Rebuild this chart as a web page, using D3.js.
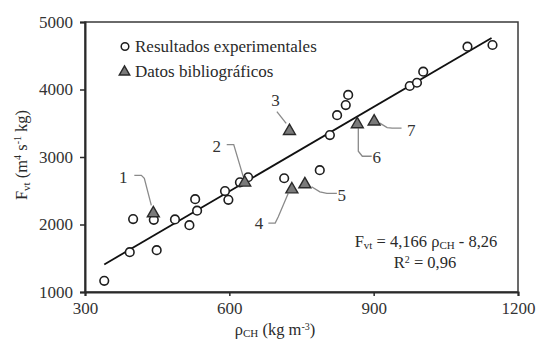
<!DOCTYPE html>
<html>
<head>
<meta charset="utf-8">
<script src="https://cdn.jsdelivr.net/npm/d3@7"></script>
<style>
  html, body { margin: 0; padding: 0; background: #fff; }
  svg text { font-family: "Liberation Serif", "Times New Roman", serif; }
</style>
</head>
<body>
<svg id="chart" width="537" height="339"></svg>
<script>
// ---- data ----
const expX = [340, 393, 400, 443, 449, 487, 517, 529, 533, 591, 598, 622, 639, 714, 788, 809, 824, 842, 847, 975, 990, 1003, 1095, 1147];
const expY = [1165, 1590, 2080, 2070, 1620, 2075, 1990, 2375, 2205, 2495, 2365, 2625, 2700, 2685, 2805, 3325, 3620, 3770, 3920, 4052, 4100, 4264, 4634, 4659];
const bibLabels = ["1", "2", "3", "4", "5", "6", "7"];
const bibX = [442, 632, 725, 730, 757, 866, 901];
const bibY = [2180, 2635, 3400, 2535, 2610, 3500, 3540];
const xTicks = [300, 600, 900, 1200];
const yTicks = [1000, 2000, 3000, 4000, 5000];
const slope = 4.166, intercept = -8.26;
const fitRange = [340, 1145];
const legendLabels = ["Resultados experimentales", "Datos bibliográficos"];

// ---- layout (annotation leader offsets in px relative to each triangle) ----
const leaderText = [[-30,-35],[-28,-35.5],[-14,-30],[-33,35],[37,11.7],[19.5,33.5],[37,9.3]];
const leaderPath = [
  [[-19,-37],[-12,-37],[-9,-34],[-2,-7]],
  [[-18,-37],[-11,-37],[-1.5,-5]],
  [[-12.6,-18.3],[-3.3,-6.7]],
  [[-23.5,34.7],[-16.7,34.7],[-13.7,28.7],[-3.7,5]],
  [[6.7,3.4],[15,8.5],[22,10],[32,10]],
  [[1,5],[1,28],[5,33],[14.4,33]],
  [[5.7,2.6],[13,7],[18,7.6],[27.4,7.6]]
];

const svg = d3.select("#chart");
const L = 85, R = 518, T = 22, B = 292;
const x = d3.scaleLinear().domain([300, 1200]).range([L, R]);
const y = d3.scaleLinear().domain([1000, 5000]).range([B, T]);
const ink = "#2a2a2a";
const serif = "'Liberation Serif', 'Times New Roman', serif";

// frame
svg.append("rect").attr("x", L).attr("y", T).attr("width", R - L).attr("height", B - T)
  .attr("fill", "none").attr("stroke", "#3a3a3a").attr("stroke-width", 1.5);

// axes
const xAxis = svg.append("g").attr("transform", `translate(0,${B})`)
  .call(d3.axisBottom(x).tickValues(xTicks).tickSize(4).tickPadding(6).tickFormat(d3.format("d")));
const yAxis = svg.append("g").attr("transform", `translate(${L},0)`)
  .call(d3.axisLeft(y).tickValues(yTicks).tickSize(5).tickPadding(7).tickFormat(d3.format("d")));
[xAxis, yAxis].forEach(g => {
  g.attr("font-family", serif);
  g.select(".domain").attr("stroke", ink).attr("stroke-width", 2);
  g.selectAll(".tick line").attr("stroke", ink).attr("stroke-width", 1.5);
  g.selectAll(".tick text").attr("fill", "#333").style("font-size", "17px")
    .style("font-family", serif);
});

// regression line
svg.append("line")
  .attr("x1", x(fitRange[0])).attr("y1", y(slope * fitRange[0] + intercept))
  .attr("x2", x(fitRange[1])).attr("y2", y(slope * fitRange[1] + intercept))
  .attr("stroke", "#111").attr("stroke-width", 1.8);

// experimental circles
svg.append("g").selectAll("circle").data(expX.map((d, i) => [d, expY[i]])).join("circle")
  .attr("cx", d => x(d[0])).attr("cy", d => y(d[1])).attr("r", 4.3)
  .attr("fill", "#fff").attr("stroke", "#1e1e1e").attr("stroke-width", 1.6);

// triangles
const tri = d3.symbol().type(d3.symbolTriangle).size(62);
const bib = bibX.map((d, i) => ({ x: d, y: bibY[i], label: bibLabels[i], i }));

// leaders
const lineGen = d3.line().curve(d3.curveLinear);
svg.append("g").selectAll("path").data(bib).join("path")
  .attr("d", d => lineGen(leaderPath[d.i].map(p => [x(d.x) + p[0], y(d.y) + p[1]])))
  .attr("fill", "none").attr("stroke", "#8a8a8a").attr("stroke-width", 1.3);

svg.append("g").selectAll("path").data(bib).join("path")
  .attr("d", tri).attr("transform", d => `translate(${x(d.x)},${y(d.y) + 1})`)
  .attr("fill", "#7a7a7a").attr("stroke", "#2a2a2a").attr("stroke-width", 1.4);

svg.append("g").selectAll("text").data(bib).join("text")
  .attr("x", d => x(d.x) + leaderText[d.i][0]).attr("y", d => y(d.y) + leaderText[d.i][1])
  .attr("text-anchor", "middle").attr("dy", "0.35em")
  .attr("fill", "#333").style("font-size", "17px").text(d => d.label);

// legend
const lg = svg.append("g");
lg.append("circle").attr("cx", 125).attr("cy", 46.5).attr("r", 3.8)
  .attr("fill", "#fff").attr("stroke", "#1e1e1e").attr("stroke-width", 1.5);
lg.append("path").attr("d", d3.symbol().type(d3.symbolTriangle).size(48))
  .attr("transform", "translate(124.5,72)")
  .attr("fill", "#7a7a7a").attr("stroke", "#2a2a2a").attr("stroke-width", 1.4);
lg.selectAll("text").data(legendLabels).join("text")
  .attr("x", 135).attr("y", (d, i) => 46.5 + i * 25).attr("dy", "0.35em")
  .attr("fill", "#2a2a2a").style("font-size", "17px").text(d => d);

// equation
const eq = svg.append("text").attr("x", 426).attr("y", 241).attr("dy", "0.35em")
  .attr("text-anchor", "middle").attr("fill", "#2a2a2a").style("font-size", "16.5px");
eq.append("tspan").text("F");
eq.append("tspan").attr("dy", 2.5).style("font-size", "11px").text("vt");
eq.append("tspan").attr("dy", -2.5).text(" = 4,166 ρ");
eq.append("tspan").attr("dy", 2.5).style("font-size", "11px").text("CH");
eq.append("tspan").attr("dy", -2.5).text(" - 8,26");
const r2 = svg.append("text").attr("x", 425).attr("y", 262).attr("dy", "0.35em")
  .attr("text-anchor", "middle").attr("fill", "#2a2a2a").style("font-size", "16.5px");
r2.append("tspan").text("R");
r2.append("tspan").attr("dy", -5).style("font-size", "10px").text("2");
r2.append("tspan").attr("dy", 5).text(" = 0,96");

// x label
const xl = svg.append("text").attr("x", 275).attr("y", 329).attr("dy", "0.35em")
  .attr("text-anchor", "middle").attr("fill", "#2a2a2a").style("font-size", "16.5px");
xl.append("tspan").text("ρ");
xl.append("tspan").attr("dy", 2.5).style("font-size", "11px").text("CH");
xl.append("tspan").attr("dy", -2.5).text("  (kg m");
xl.append("tspan").attr("dy", -5).style("font-size", "10px").text("-3");
xl.append("tspan").attr("dy", 5).text(")");

// y label
const yl = svg.append("text").attr("transform", "translate(21,155) rotate(-90)")
  .attr("text-anchor", "middle").attr("dy", "0.35em").attr("fill", "#2a2a2a").style("font-size", "16.5px");
yl.append("tspan").text("F");
yl.append("tspan").attr("dy", 3).style("font-size", "11px").text("vt");
yl.append("tspan").attr("dy", -3).text("  (m");
yl.append("tspan").attr("dy", -6).style("font-size", "10px").text("4");
yl.append("tspan").attr("dy", 6).text(" s");
yl.append("tspan").attr("dy", -6).style("font-size", "10px").text("-1");
yl.append("tspan").attr("dy", 6).text(" kg)");
</script>
</body>
</html>
